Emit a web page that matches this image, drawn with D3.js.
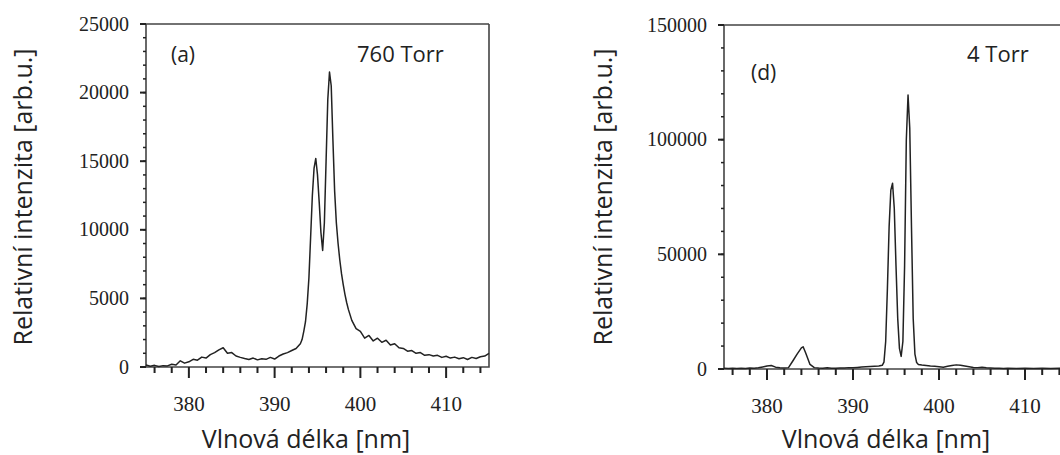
<!DOCTYPE html>
<html>
<head>
<meta charset="utf-8">
<script src="https://cdn.jsdelivr.net/npm/d3@7"></script>
<style>
  body { margin: 0; background: #fff; }
  svg { display: block; }
  .tick-label { font-family: "Liberation Serif", "Times New Roman", serif; fill: #222; }
  .label { font-family: "Open Sans", "Noto Sans", sans-serif; fill: #222; }
</style>
</head>
<body>
<svg id="chart" width="1060" height="455"></svg>
<script>
// panel (a) 760 Torr
var wlA = [375.0,375.5,376.0,376.5,377.0,377.5,378.0,378.5,379.0,379.5,
  380.0,380.5,381.0,381.5,382.0,382.5,383.0,383.5,384.0,384.5,
  385.0,385.5,386.0,386.5,387.0,387.5,388.0,388.5,389.0,389.5,
  390.0,390.5,391.0,391.5,392.0,392.5,393.0,393.2,393.4,393.6,
  393.8,394.0,394.2,394.4,394.6,394.8,395.0,395.2,395.4,395.6,
  395.8,396.0,396.2,396.4,396.6,396.8,397.0,397.2,397.4,397.6,
  397.8,398.0,398.2,398.4,398.6,398.8,399.0,399.5,400.0,400.5,
  401.0,401.5,402.0,402.5,403.0,403.5,404.0,404.5,405.0,405.5,
  406.0,406.5,407.0,407.5,408.0,408.5,409.0,409.5,410.0,410.5,
  411.0,411.5,412.0,412.5,413.0,413.5,414.0,414.5,415.0];
var intA = [150,50,120,30,100,80,200,150,450,280,
  380,560,500,720,650,900,1050,1250,1400,1000,
  1050,800,700,620,550,650,520,600,560,700,
  580,800,950,1050,1200,1350,1700,2000,2600,3300,
  4600,6500,9500,12500,14500,15200,14000,12000,9800,8500,
  10500,15000,19500,21500,20500,16500,12800,10500,9000,7800,
  6800,6000,5300,4700,4200,3800,3400,2800,2600,2100,
  2300,1900,2100,1800,1950,1600,1700,1400,1350,1150,
  1200,1000,1050,850,900,800,850,700,780,650,
  720,600,680,550,700,620,750,800,1000];

// panel (d) 4 Torr
var wlD = [375.0,375.5,376.0,376.5,377.0,377.5,378.0,378.5,379.0,379.5,
  380.0,380.5,381.0,381.5,382.0,382.5,383.0,383.5,384.0,384.2,
  384.5,385.0,385.5,386.0,386.5,387.0,387.5,388.0,388.5,389.0,
  389.5,390.0,390.5,391.0,391.5,392.0,392.5,393.0,393.4,393.6,
  393.8,394.0,394.2,394.4,394.6,394.8,395.0,395.2,395.4,395.6,
  395.8,396.0,396.2,396.4,396.6,396.8,397.0,397.2,397.4,397.6,
  398.0,398.5,399.0,399.5,400.0,400.5,401.0,401.5,402.0,402.5,
  403.0,403.5,404.0,404.5,405.0,405.5,406.0,406.5,407.0,407.5,
  408.0,409.0,410.0,411.0,412.0,413.0,414.0,415.0];
var intD = [300,200,350,250,300,200,400,300,500,900,
  1300,1500,800,500,400,600,3500,6500,9200,9700,
  7000,2000,600,400,300,500,350,300,450,400,
  600,500,700,900,1000,1100,1200,1300,1600,3000,
  12000,35000,62000,78000,81000,70000,45000,22000,9000,5500,
  12000,45000,100000,119500,105000,62000,22000,6500,2800,2000,
  1700,1500,1300,1200,1000,800,1200,1500,1800,1600,
  1300,1000,700,600,800,500,400,300,350,250,
  300,250,350,200,300,250,300,250];

var xMajor = [380, 390, 400, 410];
var xMinor = [376, 378, 382, 384, 386, 388, 392, 394, 396, 398, 402, 404, 406, 408, 412, 414];
var yTicksA = [0, 5000, 10000, 15000, 20000, 25000];
var yTicksD = [0, 50000, 100000, 150000];

var svg = d3.select('#chart');
var axisColor = '#444';
var tickColor = '#222';

var drawPanel = function(p){
  var x = d3.scaleLinear().domain([375, 415]).range([p.left, p.right]);
  var y = d3.scaleLinear().domain([0, p.yMax]).range([p.bottom, p.top]);
  var g = svg.append('g');

  // frame
  var frame = d3.path();
  frame.moveTo(p.left - 4, p.top); frame.lineTo(p.right, p.top);
  frame.moveTo(p.left, p.top); frame.lineTo(p.left, p.bottom);
  frame.lineTo(p.right, p.bottom); frame.lineTo(p.right, p.top);
  g.append('path')
    .attr('d', frame.toString())
    .attr('stroke', axisColor).attr('stroke-width', 1.6).attr('fill', 'none');

  // ticks as small filled rects, all outward
  g.selectAll('rect.xminor').data(xMinor).enter().append('rect')
    .attr('class', 'xminor')
    .attr('x', function(d){ return x(d) - 1; }).attr('y', p.bottom)
    .attr('width', 2).attr('height', 6)
    .attr('fill', tickColor);
  g.selectAll('rect.xmajor').data(xMajor).enter().append('rect')
    .attr('class', 'xmajor')
    .attr('x', function(d){ return x(d) - 1; }).attr('y', p.bottom)
    .attr('width', 2).attr('height', 11)
    .attr('fill', tickColor);
  g.selectAll('rect.yminor').data(d3.range(0, p.yMax, p.yMinor)).enter().append('rect')
    .attr('class', 'yminor')
    .attr('x', p.left - 3).attr('y', function(d){ return y(d) - 0.75; })
    .attr('width', 3).attr('height', 1.5)
    .attr('fill', tickColor);
  g.selectAll('rect.ymajor').data(p.yTicks).enter().append('rect')
    .attr('class', 'ymajor')
    .attr('x', p.left - 6).attr('y', function(d){ return y(d) - 1; })
    .attr('width', 6).attr('height', 2)
    .attr('fill', tickColor);

  g.selectAll('text.xlab').data(xMajor).enter().append('text')
    .attr('class', 'tick-label xlab')
    .attr('x', function(d){ return x(d); })
    .attr('y', p.bottom + 44)
    .attr('text-anchor', 'middle')
    .style('font-size', '21px')
    .text(function(d){ return d; });

  g.selectAll('text.ylab').data(p.yTicks).enter().append('text')
    .attr('class', 'tick-label ylab')
    .attr('x', p.left - 17)
    .attr('y', function(d){ return y(d); })
    .attr('dy', '0.33em')
    .attr('text-anchor', 'end')
    .style('font-size', '20px')
    .text(function(d){ return d3.format('d')(d); });

  // spectrum
  var line = d3.line()
    .x(function(d, i){ return x(p.wl[i]); })
    .y(function(d){ return y(d); });
  g.append('path')
    .datum(p.values)
    .attr('d', line)
    .attr('fill', 'none')
    .attr('stroke', '#222')
    .attr('stroke-width', 1.5)
    .attr('stroke-linejoin', 'round');

  // texts
  g.append('text').attr('class', 'label')
    .attr('x', p.tagX).attr('y', p.tagY)
    .style('font-size', '21px').text(p.tag);
  g.append('text').attr('class', 'label')
    .attr('x', p.pressX).attr('y', 62)
    .style('font-size', '22px').text(p.pressure);
  g.append('text').attr('class', 'label')
    .attr('transform', 'translate(' + p.titleX + ',197) rotate(-90)')
    .attr('text-anchor', 'middle')
    .style('font-size', '25px').text('Relativní intenzita [arb.u.]');
  g.append('text').attr('class', 'label')
    .attr('x', p.xTitleX).attr('y', 448)
    .attr('text-anchor', 'middle')
    .style('font-size', '25px').text('Vlnová délka [nm]');
};

drawPanel({
  wl: wlA, values: intA, yMax: 25000, yMinor: 1000, yTicks: yTicksA,
  left: 146, right: 489, top: 24, bottom: 367,
  tag: '(a)', tagX: 171, tagY: 62, pressure: '760 Torr', pressX: 357,
  titleX: 32, xTitleX: 306
});
drawPanel({
  wl: wlD, values: intD, yMax: 150000, yMinor: 10000, yTicks: yTicksD,
  left: 724, right: 1068, top: 25, bottom: 369,
  tag: '(d)', tagX: 751, tagY: 80, pressure: '4 Torr', pressX: 967,
  titleX: 612, xTitleX: 886
});
</script>
</body>
</html>
